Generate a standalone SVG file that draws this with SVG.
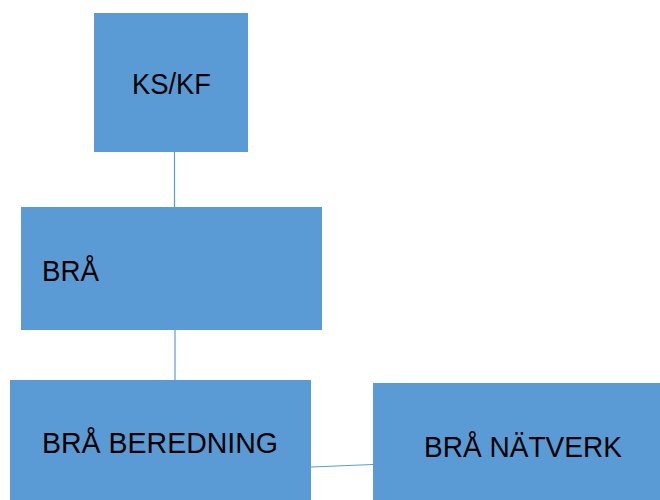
<svg xmlns="http://www.w3.org/2000/svg" width="660" height="500" viewBox="0 0 660 500">
<style>
.box{fill:#5B9BD5}
.lbl{font-family:"Liberation Sans",Arial,sans-serif;font-size:30px;fill:#000}
.conn{stroke:#5B9BD5;stroke-width:1.2;fill:none}
</style>
<rect width="660" height="500" fill="#fff"/>
<g id="connectors">
<line class="conn" x1="174.5" y1="151" x2="174.5" y2="207"/>
<line class="conn" x1="175" y1="329" x2="175" y2="380"/>
<line class="conn" x1="311" y1="467" x2="373" y2="464.5"/>
</g>
<g id="ks-kf">
<rect class="box" x="94" y="13" width="154" height="139"/>
<text class="lbl" x="132" y="94" textLength="79" lengthAdjust="spacingAndGlyphs">KS/KF</text>
</g>
<g id="bra">
<rect class="box" x="21" y="207" width="301" height="123"/>
<text class="lbl" x="42" y="281" textLength="57" lengthAdjust="spacingAndGlyphs">BRÅ</text>
</g>
<g id="bra-beredning">
<rect class="box" x="10" y="380" width="301" height="120"/>
<text class="lbl" x="42" y="453" textLength="236" lengthAdjust="spacingAndGlyphs">BRÅ BEREDNING</text>
</g>
<g id="bra-natverk">
<rect class="box" x="373" y="383" width="287" height="117"/>
<text class="lbl" x="424" y="457" textLength="198" lengthAdjust="spacingAndGlyphs">BRÅ NÄTVERK</text>
</g>
</svg>
